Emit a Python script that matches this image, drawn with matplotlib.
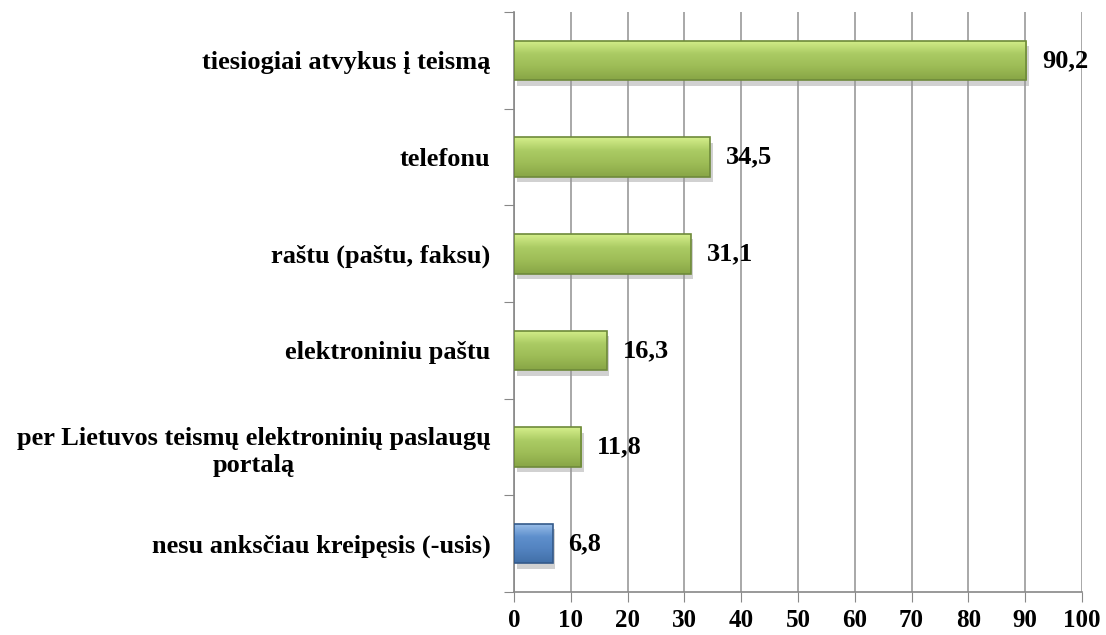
import numpy as np
import matplotlib.pyplot as plt
import matplotlib.patheffects as pe
from matplotlib.colors import LinearSegmentedColormap
from matplotlib.patches import Rectangle

plt.rcParams['font.family'] = ['Liberation Serif', 'DejaVu Serif']

categories = ['tiesiogiai atvykus į teismą', 'telefonu', 'raštu (paštu, faksu)',
              'elektroniniu paštu', 'per Lietuvos teismų elektroninių paslaugų\nportalą',
              'nesu anksčiau kreipęsis (-usis)']
values = [90.2, 34.5, 31.1, 16.3, 11.8, 6.8]
labels = ['90,2', '34,5', '31,1', '16,3', '11,8', '6,8']
colors = ['#9BBB59'] * 5 + ['#4F81BD']
edges = ['#6E8A3A'] * 5 + ['#345A8A']
gradients = [['#D4EE8A', '#ABCB64', '#9DBC56', '#88A646']] * 5 + \
            [['#9CC0EA', '#5F90CD', '#5282BF', '#4270A8']]

fig = plt.figure(figsize=(11.06, 6.35), dpi=100)
ax = fig.add_axes([0.4647, 0.0677, 0.5136, 0.9133])

y = np.arange(len(categories))[::-1]
bars = ax.barh(y, values, height=0.41, color=colors, linewidth=0, zorder=3,
               path_effects=[pe.SimplePatchShadow(offset=(2, -4), shadow_rgbFace='#999999', alpha=0.45),
                             pe.Normal()])
for bar, grad, ec in zip(bars, gradients, edges):
    x0, y0 = bar.get_x(), bar.get_y()
    w, h = bar.get_width(), bar.get_height()
    cmap = LinearSegmentedColormap.from_list('g', grad)
    img = ax.imshow(np.linspace(0, 1, 50).reshape(-1, 1), cmap=cmap, aspect='auto',
                    extent=[x0, x0 + w, y0, y0 + h], origin='upper', zorder=3.5)
    img.set_clip_path(bar)
    ax.add_patch(Rectangle((x0, y0), w, h, fill=False, edgecolor=ec, linewidth=1.2, zorder=4))
for yi, v, lab in zip(y, values, labels):
    ax.text(v + 2.8, yi, lab, va='center', ha='left', fontsize=19, fontweight='bold')

ax.set_xlim(0, 100)
ax.set_ylim(-0.5, len(categories) - 0.5)
ax.set_xticks(np.arange(0, 101, 10))
ax.set_xticklabels([str(t) for t in range(0, 101, 10)], fontsize=18, fontweight='bold')
ax.set_yticks(np.arange(-0.5, len(categories), 1))
ax.set_yticklabels([])
ax.set_yticks(y, minor=True)
ax.set_yticklabels(categories, minor=True, fontsize=19, fontweight='bold',
                   ha='right', multialignment='center', linespacing=1.25)
ax.tick_params(axis='y', which='minor', length=0, pad=17)
ax.tick_params(axis='y', which='major', length=7, color='#888888', direction='out')
ax.tick_params(axis='x', length=7, color='#888888', direction='out', pad=5)

ax.grid(axis='x', color='#999999', linewidth=1.2, zorder=0)
for s in ['top', 'right']:
    ax.spines[s].set_visible(False)
for s in ['left', 'bottom']:
    ax.spines[s].set_color('#888888')
    ax.spines[s].set_linewidth(1.2)

fig.savefig('out.png')
